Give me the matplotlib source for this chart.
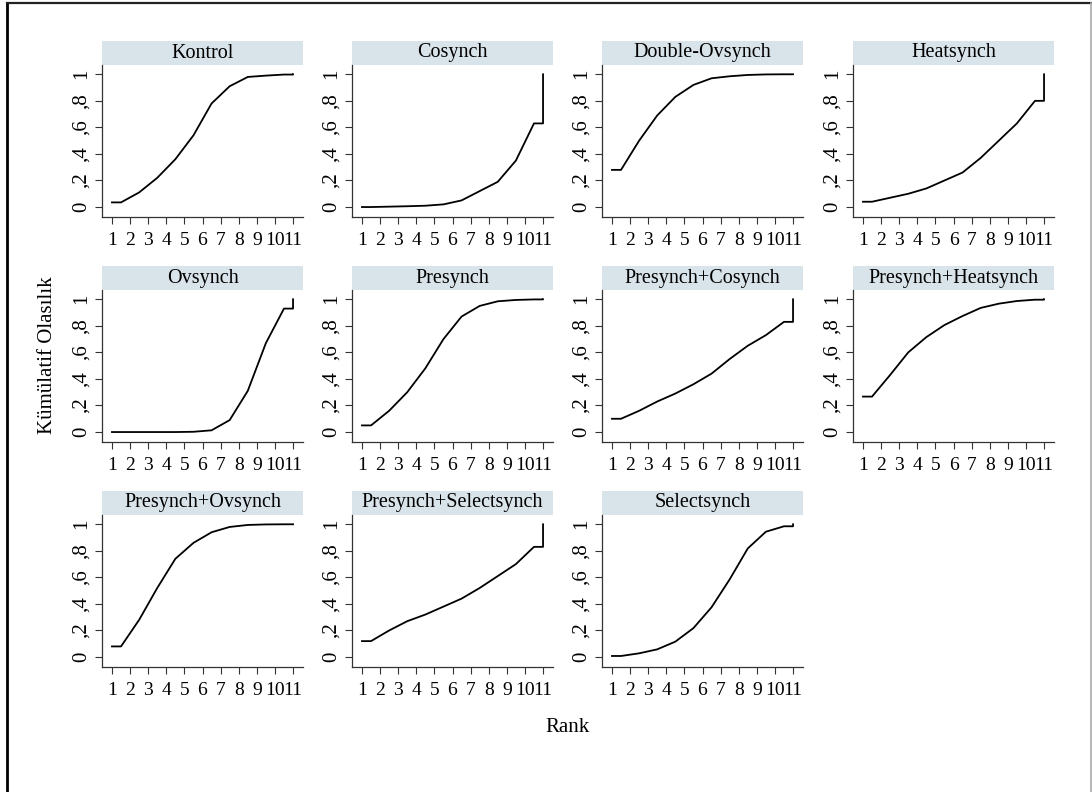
import matplotlib
matplotlib.use("Agg")
import matplotlib.pyplot as plt
from matplotlib.patches import Rectangle
from matplotlib.lines import Line2D
import numpy as np

plt.rcParams['font.family'] = ['Liberation Serif', 'DejaVu Serif']

# treatments and cumulative rank probabilities (ranks 1..11)
treatments = ["Kontrol", "Cosynch", "Double-Ovsynch", "Heatsynch",
              "Ovsynch", "Presynch", "Presynch+Cosynch", "Presynch+Heatsynch",
              "Presynch+Ovsynch", "Presynch+Selectsynch", "Selectsynch"]

kontrol = [0.035, 0.11, 0.22, 0.36, 0.54, 0.78, 0.91, 0.98, 0.99, 0.998, 1.0]
cosynch = [0.0, 0.003, 0.006, 0.01, 0.02, 0.05, 0.12, 0.19, 0.35, 0.63, 1.0]
double_ovsynch = [0.28, 0.50, 0.69, 0.83, 0.92, 0.97, 0.985, 0.995, 0.999, 1.0, 1.0]
heatsynch = [0.04, 0.07, 0.10, 0.14, 0.20, 0.26, 0.37, 0.50, 0.63, 0.80, 1.0]
ovsynch = [0.0, 0.0, 0.0, 0.0, 0.002, 0.013, 0.09, 0.31, 0.67, 0.93, 1.0]
presynch = [0.05, 0.16, 0.30, 0.48, 0.70, 0.87, 0.95, 0.985, 0.995, 0.999, 1.0]
presynch_cosynch = [0.10, 0.16, 0.23, 0.29, 0.36, 0.44, 0.55, 0.65, 0.73, 0.83, 1.0]
presynch_heatsynch = [0.267, 0.43, 0.60, 0.715, 0.806, 0.874, 0.935, 0.967, 0.987, 0.997, 1.0]
presynch_ovsynch = [0.08, 0.28, 0.52, 0.74, 0.86, 0.94, 0.98, 0.995, 0.999, 1.0, 1.0]
presynch_selectsynch = [0.12, 0.20, 0.27, 0.32, 0.38, 0.44, 0.52, 0.61, 0.70, 0.83, 1.0]
selectsynch = [0.008, 0.028, 0.058, 0.116, 0.218, 0.375, 0.585, 0.818, 0.944, 0.985, 1.0]

all_cum = [kontrol, cosynch, double_ovsynch, heatsynch, ovsynch, presynch,
           presynch_cosynch, presynch_heatsynch, presynch_ovsynch,
           presynch_selectsynch, selectsynch]

ranks = np.arange(1, 12)
ytick_vals = [0, 0.2, 0.4, 0.6, 0.8, 1.0]
ytick_labels = ["0", ",2", ",4", ",6", ",8", "1"]

W, H = 1092, 792
fig = plt.figure(figsize=(W / 100, H / 100), dpi=100)

col_left = [102, 352, 602, 853]
row_top = [65, 290, 515]
ax_w, ax_h = 201, 152
strip_h = 24
strip_color = '#d9e4ea'

for i, (name, cum) in enumerate(zip(treatments, all_cum)):
    r, c = divmod(i, 4)
    left = col_left[c] / W
    bottom = 1 - (row_top[r] + ax_h) / H
    ax = fig.add_axes([left, bottom, ax_w / W, ax_h / H])

    # step at start, kinks at half ranks, jump to rank 11 at the end
    cum = np.asarray(cum)
    xs = np.concatenate([[ranks[0]], ranks[:-1] + 0.5, [ranks[-1], ranks[-1]]])
    ys = np.concatenate([[cum[0]], cum[:-1], [cum[-2], cum[-1]]])
    ax.plot(xs, ys, color='black', lw=1.3)

    ax.set_xlim(0.45, 11.55)
    ax.set_ylim(-0.075, 1.07)
    ax.set_xticks(ranks)
    ax.set_xticklabels([str(k) for k in ranks], fontsize=14)
    ax.set_yticks(ytick_vals)
    ax.set_yticklabels(ytick_labels, fontsize=15, rotation=90, va='center')
    ax.tick_params(axis='both', direction='out', length=5, width=0.8,
                   color='#333333')
    ax.tick_params(axis='x', pad=6)
    ax.tick_params(axis='y', pad=3)
    for s in ['top', 'right']:
        ax.spines[s].set_visible(False)
    for s in ['left', 'bottom']:
        ax.spines[s].set_linewidth(0.9)
        ax.spines[s].set_color('#333333')

    ax.add_patch(Rectangle((0, 1), 1, strip_h / ax_h, transform=ax.transAxes,
                           facecolor=strip_color, edgecolor='none', clip_on=False))
    ax.text(0.5, 1 + strip_h / ax_h / 2, name, transform=ax.transAxes,
            ha='center', va='center', fontsize=14.5)

fig.text(48 / W, 1 - 355 / H, "Kümülatif Olasılık", rotation=90,
         ha='center', va='center', fontsize=15)
fig.text(567 / W, 1 - 727 / H, "Rank", ha='center', va='center', fontsize=15)

# page frame
fig.add_artist(Line2D([7 / W, 7 / W], [0, 1 - 3 / H], transform=fig.transFigure,
                      color='black', lw=2))
fig.add_artist(Line2D([7 / W, 1091 / W], [1 - 3 / H, 1 - 3 / H],
                      transform=fig.transFigure, color='#222222', lw=1.6))
fig.add_artist(Line2D([1091 / W, 1091 / W], [0, 1 - 3 / H],
                      transform=fig.transFigure, color='#aaaaaa', lw=1.2))

fig.savefig("out.png", dpi=100)
